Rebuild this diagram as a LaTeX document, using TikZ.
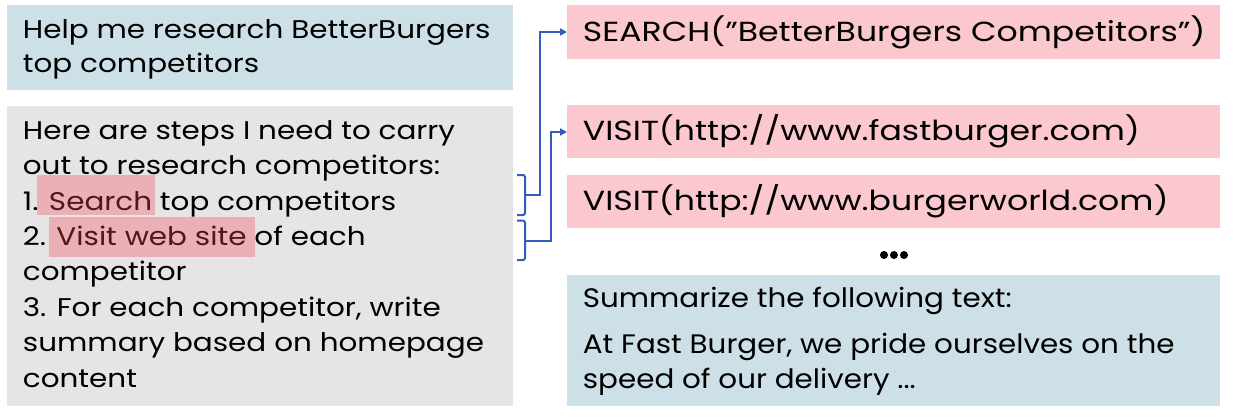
\documentclass[tikz,border=0pt]{standalone}
\usepackage{fontspec}
\setmainfont{Poppins}
\newfontfamily\greyfont[FakeStretch=1.15]{Poppins}
\newfontfamily\pinkfont[FakeStretch=1.2]{Poppins}
\newfontfamily\summfont[FakeStretch=1.1]{Poppins}
\usetikzlibrary{arrows.meta}
\definecolor{boxblue}{RGB}{205,224,231}
\definecolor{boxgrey}{RGB}{229,229,229}
\definecolor{boxpink}{RGB}{250,200,206}
\definecolor{hlpink}{RGB}{234,176,182}
\definecolor{hltext}{RGB}{80,22,26}
\definecolor{linkblue}{RGB}{52,92,188}
\tikzset{
  panel/.style={anchor=north west, inner sep=0pt, draw=none},
  txt/.style={anchor=base west, inner sep=0pt, font=\greyfont\fontsize{25.6}{30}\selectfont},
  ptxt/.style={anchor=base west, inner sep=0pt, font=\pinkfont\fontsize{27.6}{30}\selectfont},
  stxt/.style={anchor=base west, inner sep=0pt, font=\summfont\fontsize{26.7}{30}\selectfont},
  brk/.style={draw=linkblue, line width=2pt},
  link/.style={draw=linkblue, line width=2pt, -{Triangle[length=7pt,width=7pt]}},
}
\newcommand{\hl}[1]{\textcolor{hltext}{#1}}
\begin{document}
\begin{tikzpicture}[x=1pt,y=-1pt]
\useasboundingbox (0,0) rectangle (1234,416);
\fill[white] (0,0) rectangle (1234,416);
% panels
\node[panel, fill=boxblue, minimum width=506pt, minimum height=85pt] (ask) at (7,5) {};
\node[panel, fill=boxgrey, minimum width=506pt, minimum height=300pt] (plan) at (7,106) {};
\node[panel, fill=boxpink, minimum width=653pt, minimum height=54pt] (search) at (567,5) {};
\node[panel, fill=boxpink, minimum width=653pt, minimum height=53pt] (visit1) at (567,105) {};
\node[panel, fill=boxpink, minimum width=653pt, minimum height=53pt] (visit2) at (567,175) {};
\node[panel, fill=boxblue, minimum width=653pt, minimum height=131pt] (summ) at (567,275) {};
% highlights
\fill[hlpink] (37,175) rectangle (155,215);
\fill[hlpink] (49,216.7) rectangle (255,257);
% texts
\node[txt] (a1) at (22.7,38.3) {Help me research BetterBurgers};
\node[txt] (a2) at (22.7,72) {top competitors};
\node[txt] (p1) at (22.7,139.3) {Here are steps I need to carry};
\node[txt] (p2) at (22.7,174.7) {out to research competitors:};
\node[txt] (p3) at (22.7,210.1) {1. \hl{Search} top competitors};
\node[txt] (p4) at (22.7,245.5) {2. \hl{Visit web site} of each};
\node[txt] (p5) at (22.7,280.9) {competitor};
\node[txt] (p6) at (22.7,316.3) {3. For each competitor, write};
\node[txt] (p7) at (22.7,351.7) {summary based on homepage};
\node[txt] (p8) at (22.7,387.1) {content};
\node[ptxt] (s1) at (582.7,41.7) {SEARCH(”BetterBurgers Competitors”)};
\node[ptxt] (v1) at (582.7,140) {VISIT(http://www.fastburger.com)};
\node[ptxt] (v2) at (582.7,210) {VISIT(http://www.burgerworld.com)};
\node[stxt] (m1) at (582.7,307.3) {Summarize the following text:};
\node[stxt] (m2) at (582.7,353.3) {At Fast Burger, we pride ourselves on the};
\node[stxt] (m3) at (582.7,388.3) {speed of our delivery ...};
% dots
\foreach \i in {0,1,2} \fill (884+10*\i,255) circle (4pt);
\node[inner sep=0pt, minimum size=0pt] (dots) at (894,255) {};
% brackets
\coordinate (b1a) at (517,175);
\coordinate (b1b) at (517,215);
\coordinate (b1m) at (525,195);
\coordinate (b2a) at (517,220.7);
\coordinate (b2b) at (517,260);
\coordinate (b2m) at (525,240.7);
\draw[brk, rounded corners=2pt] (b1a) -| (b1m) |- (b1b);
\draw[brk, rounded corners=2pt] (b2a) -| (b2m) |- (b2b);
\draw[link] (b1m) -- (540,195) -- (540,32) -- (search.west |- 0,32);
\draw[link] (b2m) -- (551,240.7) -- (551,132) -- (visit1.west |- 0,132);
\end{tikzpicture}
\end{document}
